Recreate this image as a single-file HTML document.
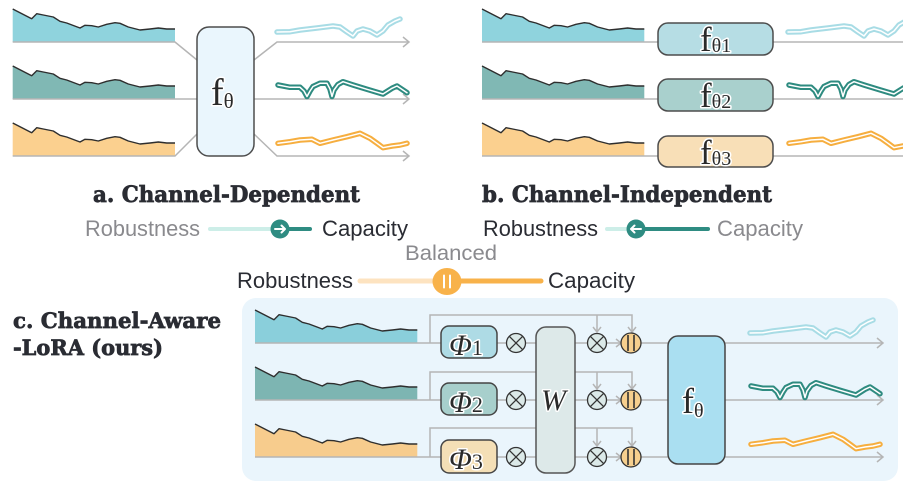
<!DOCTYPE html>
<html><head><meta charset="utf-8"><style>
html,body{margin:0;padding:0;background:#fff;}
svg{display:block;}
.hd{font-family:"DejaVu Serif","Liberation Serif",serif;font-weight:bold;fill:#2a2c33;stroke:#2a2c33;stroke-width:0.7;}
.lb{font-family:"Liberation Sans","DejaVu Sans",sans-serif;}
.mt{font-family:"Liberation Serif","DejaVu Serif",serif;fill:#2a2a2a;paint-order:stroke;stroke:#fff;stroke-width:3;stroke-linejoin:round;}
.gl{stroke:#b5b5b5;stroke-width:1.5;fill:none;}
.top{fill:none;stroke:#2e2e2e;stroke-width:1.4;stroke-linejoin:round;}
.wv{fill:none;stroke-width:5.5;stroke-linejoin:round;stroke-linecap:round;}
.wi{fill:none;stroke:#fff;stroke-width:1.5;stroke-linejoin:round;stroke-linecap:round;}
</style></head><body>
<svg width="903" height="486" viewBox="0 0 903 486" xmlns="http://www.w3.org/2000/svg">
<defs>
<path id="sf" d="M0,0 L0,-33 L19,-23.3 L24,-28.3 L30.6,-27 L40.6,-25 L47.3,-20.7 L54,-19 L67.3,-14 L72.3,-16.7 L79,-16.3 L85.6,-15 L94,-17.7 L102.3,-19.3 L107.3,-18.7 L115.6,-15 L127.3,-12 L137.3,-13 L145.6,-14 L154,-13 L162.3,-13 L162.3,0 Z"/>
<path id="st" d="M0,-33 L19,-23.3 L24,-28.3 L30.6,-27 L40.6,-25 L47.3,-20.7 L54,-19 L67.3,-14 L72.3,-16.7 L79,-16.3 L85.6,-15 L94,-17.7 L102.3,-19.3 L107.3,-18.7 L115.6,-15 L127.3,-12 L137.3,-13 L145.6,-14 L154,-13 L162.3,-13"/>
<path id="w1" d="M0,-10 L13,-10.3 L23,-12 L40,-14 L56,-16 L63,-15 L70,-10 L76,-6 L80,-11 L86,-13 L93,-11 L100,-7 L106,-11 L111,-17 L118,-21 L123,-23"/>
<path id="w2" d="M1,-14 L13,-11.7 L23,-11.7 L27,-8 L30,-2.5 L33,-8 L36,-12.5 L43,-15.7 L50,-15.7 L53,-10 L55,-2.5 L57,-9 L61,-14.5 L66,-17.3 L76,-14 L90,-9.7 L106,-5 L115,-10.7 L120,-13 L130,-6.3"/>
<path id="w3" d="M1,-12.7 L13,-14.3 L23,-16 L35,-16.7 L43,-12.7 L56,-16 L70,-19.3 L83,-22.7 L93,-17.7 L100,-12.7 L106,-8.3 L115,-10 L123,-11 L130,-12.7"/>
</defs>

<!-- ===== Panel a ===== -->
<g transform="translate(12.7,42)"><use href="#sf" fill="#8fd3dd"/><use href="#st" class="top"/></g>
<g transform="translate(12.7,99)"><use href="#sf" fill="#80b8b4"/><use href="#st" class="top"/></g>
<g transform="translate(12.7,156)"><use href="#sf" fill="#fbd08f"/><use href="#st" class="top"/></g>
<path class="gl" d="M12.7,42 H175 L197,60 M12.7,99 H197 M12.7,156 H175 L197,134"/>
<path class="gl" d="M254,60 L277,42 H409 M254,99 H409 M254,134 L277,156 H409"/>
<path class="gl" d="M403,37 L409,42 L403,47 M403,94 L409,99 L403,104 M403,151 L409,156 L403,161"/>
<rect x="197" y="27" width="57" height="129" rx="12" fill="#eaf6fd" stroke="#4d4d4d" stroke-width="1.5"/>
<text class="mt" x="211" y="105" font-size="38">f<tspan font-size="21" dy="3">θ</tspan></text>
<g transform="translate(277,42)"><use href="#w1" class="wv" stroke="#a8dce5"/><use href="#w1" class="wi"/></g>
<g transform="translate(277,99)"><use href="#w2" class="wv" stroke="#2e8b80"/><use href="#w2" class="wi"/></g>
<g transform="translate(277,156)"><use href="#w3" class="wv" stroke="#f6ae3f"/><use href="#w3" class="wi"/></g>

<!-- ===== Panel b ===== -->
<g transform="translate(482,42)"><use href="#sf" fill="#8fd3dd"/><use href="#st" class="top"/></g>
<g transform="translate(482,99)"><use href="#sf" fill="#80b8b4"/><use href="#st" class="top"/></g>
<g transform="translate(482,156)"><use href="#sf" fill="#fbd08f"/><use href="#st" class="top"/></g>
<path class="gl" d="M482,42 H658 M773,42 H903 M482,99 H658 M773,99 H903 M482,156 H658 M773,156 H903"/>
<rect x="658" y="23" width="115" height="32" rx="10" fill="#b6dde4" stroke="#4d4d4d" stroke-width="1.5"/>
<rect x="658" y="79" width="115" height="32" rx="10" fill="#a9d0cd" stroke="#4d4d4d" stroke-width="1.5"/>
<rect x="658" y="136" width="115" height="31" rx="10" fill="#f8dfb7" stroke="#4d4d4d" stroke-width="1.5"/>
<text class="mt" x="700" y="51" font-size="35">f<tspan font-size="20" dy="1">θ1</tspan></text>
<text class="mt" x="700" y="107" font-size="35">f<tspan font-size="20" dy="1">θ2</tspan></text>
<text class="mt" x="700" y="164" font-size="35">f<tspan font-size="20" dy="1">θ3</tspan></text>
<g transform="translate(788,42)"><use href="#w1" class="wv" stroke="#a8dce5"/><use href="#w1" class="wi"/></g>
<g transform="translate(788,99)"><use href="#w2" class="wv" stroke="#2e8b80"/><use href="#w2" class="wi"/></g>
<g transform="translate(788,156)"><use href="#w3" class="wv" stroke="#f6ae3f"/><use href="#w3" class="wi"/></g>

<!-- ===== Headings and sliders ===== -->
<text class="hd" x="93" y="202" font-size="22" textLength="267" lengthAdjust="spacingAndGlyphs">a. Channel-Dependent</text>
<text class="hd" x="482" y="202" font-size="22" textLength="290" lengthAdjust="spacingAndGlyphs">b. Channel-Independent</text>

<text class="lb" x="85" y="236" font-size="22" fill="#8a8a8e" textLength="115" lengthAdjust="spacingAndGlyphs">Robustness</text>
<line x1="210" y1="229" x2="280" y2="229" stroke="#cdeee8" stroke-width="4" stroke-linecap="round"/>
<line x1="280" y1="229" x2="310" y2="229" stroke="#2f8c82" stroke-width="4" stroke-linecap="round"/>
<circle cx="280" cy="229" r="9.5" fill="#2f8c82"/>
<path d="M275,229 H285 M281.5,225.5 L285,229 L281.5,232.5" stroke="#fff" stroke-width="2" fill="none" stroke-linecap="round" stroke-linejoin="round"/>
<text class="lb" x="322" y="236" font-size="22" fill="#2a2c33" textLength="86" lengthAdjust="spacingAndGlyphs">Capacity</text>

<text class="lb" x="483" y="236" font-size="22" fill="#2a2c33" textLength="115" lengthAdjust="spacingAndGlyphs">Robustness</text>
<line x1="607" y1="229" x2="636" y2="229" stroke="#cdeee8" stroke-width="4" stroke-linecap="round"/>
<line x1="636" y1="229" x2="708" y2="229" stroke="#2f8c82" stroke-width="4" stroke-linecap="round"/>
<circle cx="636" cy="229" r="9.5" fill="#2f8c82"/>
<path d="M641,229 H631 M634.5,225.5 L631,229 L634.5,232.5" stroke="#fff" stroke-width="2" fill="none" stroke-linecap="round" stroke-linejoin="round"/>
<text class="lb" x="717" y="236" font-size="22" fill="#8a8a8e" textLength="86" lengthAdjust="spacingAndGlyphs">Capacity</text>

<text class="lb" x="405" y="260" font-size="21" fill="#8a8a8e" textLength="92" lengthAdjust="spacingAndGlyphs">Balanced</text>
<text class="lb" x="237" y="288" font-size="22" fill="#2a2c33" textLength="116" lengthAdjust="spacingAndGlyphs">Robustness</text>
<line x1="360" y1="281" x2="447" y2="281" stroke="#fde3c0" stroke-width="5" stroke-linecap="round"/>
<line x1="447" y1="281" x2="541" y2="281" stroke="#f8b24a" stroke-width="5" stroke-linecap="round"/>
<ellipse cx="447" cy="281.5" rx="14.5" ry="13.5" fill="#f8b24a"/>
<path d="M444,275.5 V287.5 M450,275.5 V287.5" stroke="#fff" stroke-width="2" stroke-linecap="round"/>
<text class="lb" x="548" y="288" font-size="22" fill="#2a2c33" textLength="87" lengthAdjust="spacingAndGlyphs">Capacity</text>

<!-- ===== Panel c ===== -->
<rect x="242" y="298" width="656" height="183" rx="14" fill="#eaf5fc"/>
<text class="hd" x="13" y="328" font-size="21" textLength="208" lengthAdjust="spacingAndGlyphs">c. Channel-Aware</text>
<text class="hd" x="13" y="355" font-size="21" textLength="150" lengthAdjust="spacingAndGlyphs">-LoRA (ours)</text>

<g transform="translate(255,343)"><use href="#sf" fill="#8acfdb"/><use href="#st" class="top"/></g>
<g transform="translate(255,400)"><use href="#sf" fill="#7db5b2"/><use href="#st" class="top"/></g>
<g transform="translate(255,457)"><use href="#sf" fill="#f7cc8d"/><use href="#st" class="top"/></g>

<!-- row lines -->
<g class="gl">
<path d="M255,343 H441 M497,343 H506 M526,343 H536 M575,343 H587 M607,343 H621 M641,343 H668 M725,343 H883"/>
<path d="M255,400 H441 M497,400 H506 M526,400 H536 M575,400 H587 M607,400 H621 M641,400 H668 M725,400 H883"/>
<path d="M255,457 H441 M497,457 H506 M526,457 H536 M575,457 H587 M607,457 H621 M641,457 H668 M725,457 H883"/>
<path d="M430,343 V315 H632 V332 M597,315 V332 M593,327 L597,332 L601,327 M628,327 L632,332 L636,327 M616,339 L621,343 L616,347"/>
<path d="M430,400 V372 H632 V389 M597,372 V389 M593,384 L597,389 L601,384 M628,384 L632,389 L636,384 M616,396 L621,400 L616,404"/>
<path d="M430,457 V428 H632 V446 M597,428 V446 M593,441 L597,446 L601,441 M628,441 L632,446 L636,441 M616,453 L621,457 L616,461"/>
<path d="M877,338 L883,343 L877,348 M877,395 L883,400 L877,405 M877,452 L883,457 L877,462"/>
</g>

<!-- Phi boxes -->
<rect x="441" y="326" width="56" height="32" rx="8" fill="#aedbe5" stroke="#444" stroke-width="1.5"/>
<rect x="441" y="383" width="56" height="32" rx="8" fill="#a7cfcc" stroke="#444" stroke-width="1.5"/>
<rect x="441" y="440" width="56" height="33" rx="8" fill="#f4dfb6" stroke="#444" stroke-width="1.5"/>
<text class="mt" x="449" y="355" font-size="30" font-style="italic">Φ<tspan font-style="normal" font-size="22">1</tspan></text>
<text class="mt" x="449" y="412" font-size="30" font-style="italic">Φ<tspan font-style="normal" font-size="22">2</tspan></text>
<text class="mt" x="449" y="469" font-size="30" font-style="italic">Φ<tspan font-style="normal" font-size="22">3</tspan></text>

<!-- otimes circles -->
<g fill="#dbe9e8" stroke="#333" stroke-width="1.3">
<circle cx="516" cy="343" r="9.5"/><circle cx="516" cy="400" r="9.5"/><circle cx="516" cy="457" r="9.5"/>
<circle cx="597" cy="343" r="9.5"/><circle cx="597" cy="400" r="9.5"/><circle cx="597" cy="457" r="9.5"/>
</g>
<g stroke="#333" stroke-width="1.3">
<path d="M509.3,336.3 L522.7,349.7 M522.7,336.3 L509.3,349.7"/>
<path d="M509.3,393.3 L522.7,406.7 M522.7,393.3 L509.3,406.7"/>
<path d="M509.3,450.3 L522.7,463.7 M522.7,450.3 L509.3,463.7"/>
<path d="M590.3,336.3 L603.7,349.7 M603.7,336.3 L590.3,349.7"/>
<path d="M590.3,393.3 L603.7,406.7 M603.7,393.3 L590.3,406.7"/>
<path d="M590.3,450.3 L603.7,463.7 M603.7,450.3 L590.3,463.7"/>
</g>

<!-- W box -->
<rect x="536" y="327" width="39" height="146" rx="10" fill="#dde9e9" stroke="#555" stroke-width="1.5"/>
<text class="mt" x="541" y="410" font-size="30" font-style="italic">W</text>

<!-- orange concat circles -->
<g fill="#f6cf8e" stroke="#333" stroke-width="1.3">
<circle cx="631" cy="343" r="10"/><circle cx="631" cy="400" r="10"/><circle cx="631" cy="457" r="10"/>
</g>
<g stroke="#333" stroke-width="1.6">
<path d="M628,335 V351 M634,335 V351"/>
<path d="M628,392 V408 M634,392 V408"/>
<path d="M628,449 V465 M634,449 V465"/>
</g>

<!-- f_theta box c -->
<rect x="668" y="336" width="57" height="128" rx="10" fill="#aadff1" stroke="#444" stroke-width="1.5"/>
<text class="mt" x="682" y="413" font-size="36">f<tspan font-size="20" dy="4">θ</tspan></text>

<g transform="translate(750,343)"><use href="#w1" class="wv" stroke="#a8dce5"/><use href="#w1" class="wi"/></g>
<g transform="translate(750,400)"><use href="#w2" class="wv" stroke="#2e8b80"/><use href="#w2" class="wi"/></g>
<g transform="translate(750,457)"><use href="#w3" class="wv" stroke="#f6ae3f"/><use href="#w3" class="wi"/></g>
</svg>
</body></html>
